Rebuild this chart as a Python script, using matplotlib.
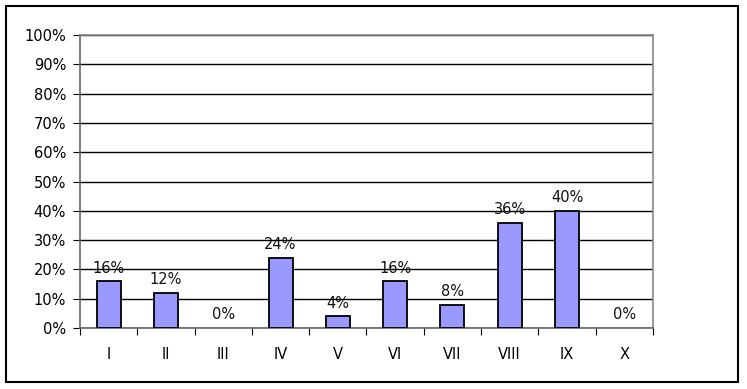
import matplotlib.pyplot as plt
import numpy as np
from matplotlib.patches import Rectangle

categories = ["I", "II", "III", "IV", "V", "VI", "VII", "VIII", "IX", "X"]
values = [16, 12, 0, 24, 4, 16, 8, 36, 40, 0]

fig = plt.figure(figsize=(7.47, 3.89), dpi=100)
fig.patches.append(Rectangle((0.008, 0.018), 0.98, 0.967, transform=fig.transFigure,
                             fill=False, edgecolor="black", linewidth=1.5))
ax = fig.add_axes([0.1071, 0.1568, 0.767, 0.753])

x = np.arange(len(categories))
# zero-height bars are not drawn in the original
lw = [1.3 if v > 0 else 0 for v in values]
ax.bar(x, values, width=0.42, color="#9999FF", edgecolor="black", linewidth=lw, zorder=3)
for xi, v in zip(x, values):
    ax.annotate(f"{v}%", (xi, v), xytext=(0, 4), textcoords="offset points",
                ha="center", va="bottom", fontsize=10.5, color="#111111")

ax.set_xlim(-0.5, len(categories) - 0.5)
ax.set_ylim(0, 100)
ax.set_yticks(range(0, 101, 10))
ax.set_yticklabels([f"{t}%" for t in range(0, 101, 10)], fontsize=10.5)
ax.yaxis.grid(True, color="black", linewidth=1.0)
ax.set_axisbelow(True)

ax.set_xticks(np.arange(-0.5, len(categories), 1.0))
ax.set_xticklabels([])
ax.set_xticks(x, minor=True)
ax.set_xticklabels(categories, minor=True, fontsize=10.5)
ax.tick_params(axis="x", which="minor", length=0, pad=14)
ax.tick_params(axis="x", which="major", length=5, direction="out")
ax.tick_params(axis="y", length=5, direction="out", pad=5)

for s in ["top", "right"]:
    ax.spines[s].set_color("#888888")
ax.spines["left"].set_color("#666666")
ax.spines["bottom"].set_color("#666666")
for s in ax.spines.values():
    s.set_linewidth(1.2)

fig.savefig("out.png", dpi=100)
